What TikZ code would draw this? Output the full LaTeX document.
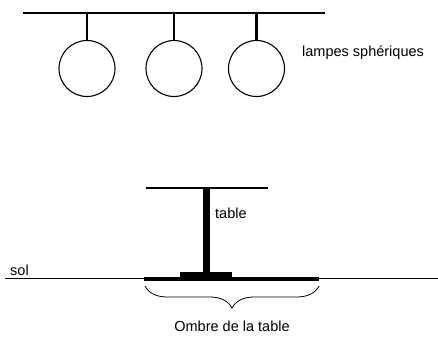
\documentclass[tikz,border=0pt]{standalone}
\usepackage{fontspec}
\setmainfont{Liberation Sans}
\usetikzlibrary{decorations.pathreplacing}
\begin{document}
\begin{tikzpicture}[x=1pt,y=-1pt,
  lamp/.style={draw,circle,line width=1.1pt,minimum size=56pt,inner sep=0pt},
  stem/.style={line width=2.6pt},
  label/.style={font=\fontsize{14.5}{17}\selectfont,inner sep=0pt}]
  \useasboundingbox (0,0) rectangle (438,338);
  % ceiling rail
  \coordinate (railL) at (23,13);
  \coordinate (railR) at (325,13);
  \draw[line width=1.4pt] (railL) -- (railR);
  % spherical lamps hanging from the rail
  \node[lamp] (l1) at (87,68.5) {};
  \node[lamp] (l2) at (174,68.5) {};
  \node[lamp] (l3) at (256.5,68.5) {};
  \foreach \l in {l1,l2,l3}
    \draw[stem] (\l.north) -- (\l.north |- railL);
  \node[label,anchor=west] (lampes) at (302,53) {lampes sphériques};
  % ground
  \coordinate (solL) at (5,278);
  \coordinate (solR) at (438,278);
  \draw[line width=1pt] (solL) -- (solR);
  \node[label,anchor=south west] (sol) at (10,276) {sol};
  % table
  \coordinate (topL) at (146,188);
  \coordinate (topR) at (268,188);
  \draw[line width=2.6pt] (topL) -- (topR);
  \fill (202.5,188) rectangle (209.5,272);
  \node[fill,minimum width=52pt,minimum height=7pt,inner sep=0pt] (pied) at (206,275.5) {};
  \node[label,anchor=west] (table) at (215,213) {table};
  % shadow on the ground
  \coordinate (ombreL) at (144,278.5);
  \coordinate (ombreR) at (319,278.5);
  \draw[line width=4pt] (ombreL) -- (ombreR);
  \draw[line width=0.8pt,decorate,decoration={brace,mirror,amplitude=22pt,aspect=0.5}]
    (145,286) -- (319,286);
  \node[label] (ombre) at (232,326) {Ombre de la table};
\end{tikzpicture}
\end{document}
